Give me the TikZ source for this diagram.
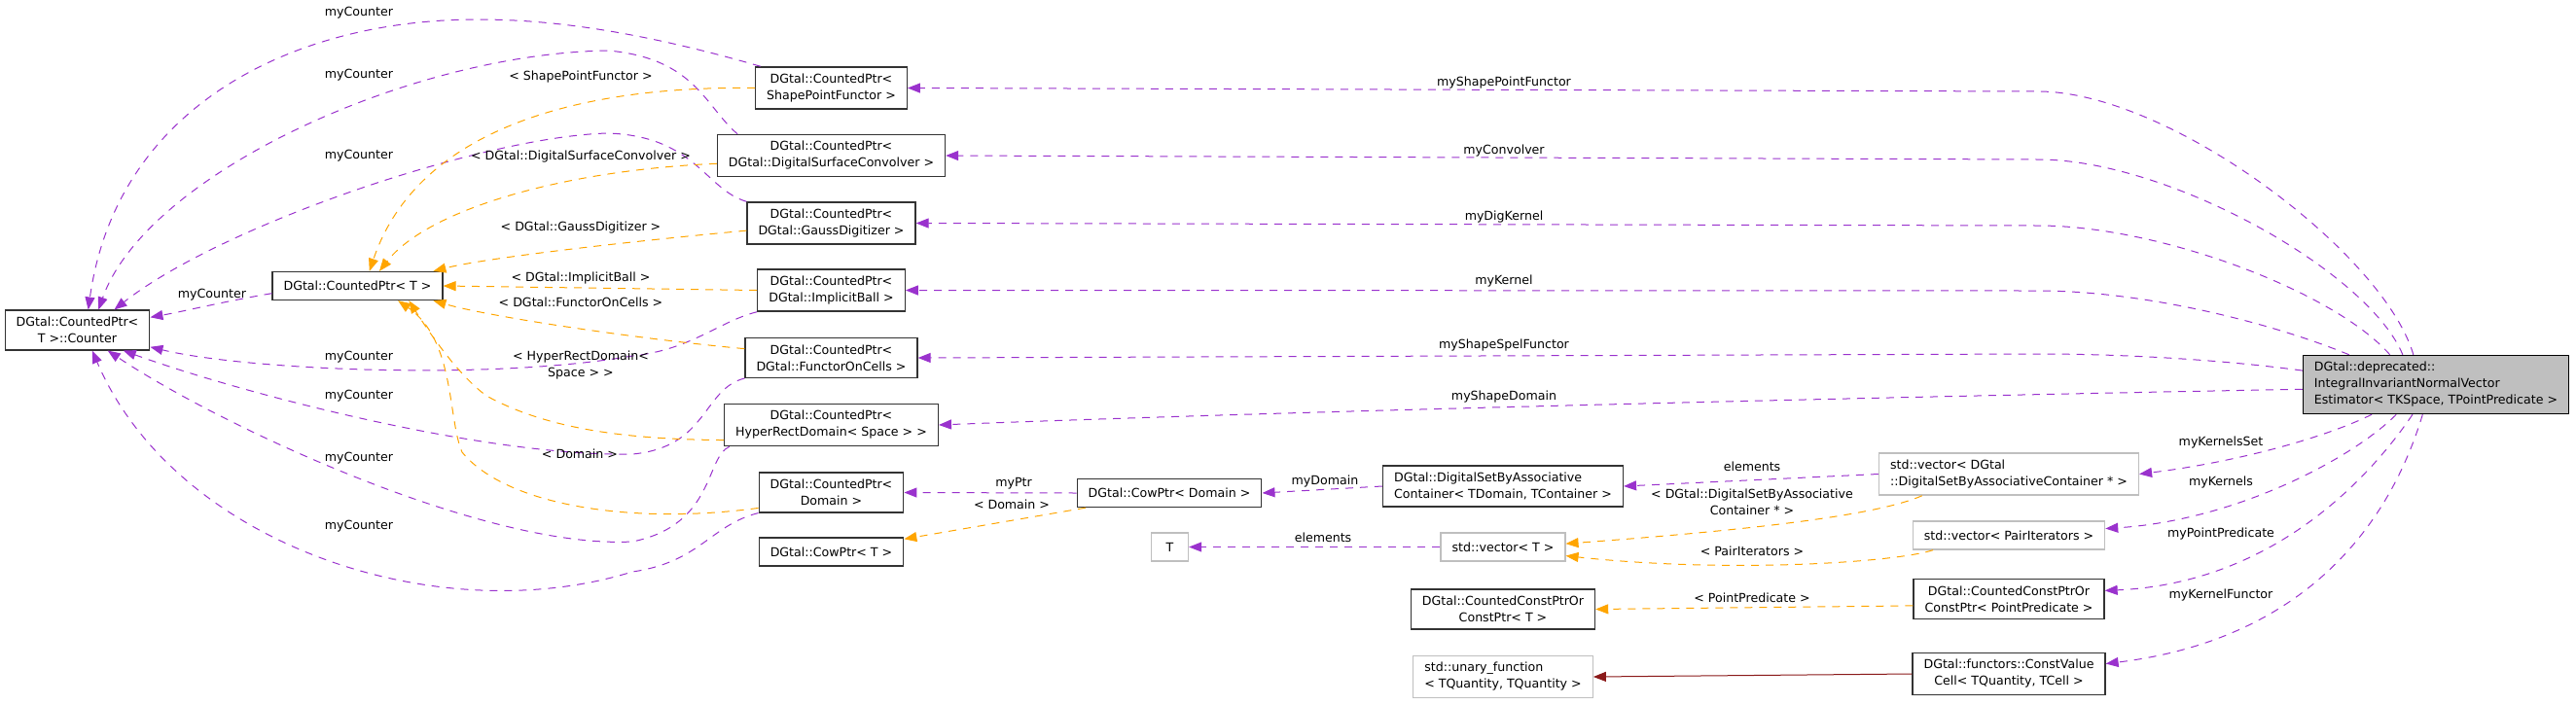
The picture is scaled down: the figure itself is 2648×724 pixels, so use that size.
\documentclass[tikz,border=0pt]{standalone}
\usepackage{fontspec}
\setmainfont{DejaVu Sans}
\usetikzlibrary{arrows.meta}
\definecolor{usecol}{HTML}{9A32CD}
\definecolor{tplcol}{HTML}{FFA500}
\definecolor{inhcol}{HTML}{8B1A1A}
\definecolor{extcol}{HTML}{BFBFBF}
\begin{document}
\begin{tikzpicture}[x=1pt,y=-1pt,font=\fontsize{12.6}{17}\selectfont,
  cls/.style={draw=black!80,line width=1.3pt,fill=white,inner xsep=11.5pt,inner ysep=7pt,minimum height=29pt,align=center},
  ext/.style={cls,draw=extcol},
  lbl/.style={inner sep=0pt,align=center},
  edge/.style={line width=1pt,dash pattern=on 8pt off 7pt,-{Triangle[length=13pt,width=10pt]}},
  use/.style={edge,draw=usecol},
  tpl/.style={edge,draw=tplcol},
  inh/.style={line width=1pt,draw=inhcol,-{Triangle[length=13pt,width=10pt]}}]
  \useasboundingbox (0,0) rectangle (2648,724);
  \node[cls] (cnt) at (79.5,339.5) {DGtal::CountedPtr<\\T >::Counter};
  \node[cls] (cptr) at (367.5,294) {DGtal::CountedPtr< T >};
  \node[cls] (spf) at (854.5,90.5) {DGtal::CountedPtr<\\ShapePointFunctor >};
  \node[cls] (dsc) at (854.5,160) {DGtal::CountedPtr<\\DGtal::DigitalSurfaceConvolver >};
  \node[cls] (gd) at (854.5,229.5) {DGtal::CountedPtr<\\DGtal::GaussDigitizer >};
  \node[cls] (ib) at (854.5,298.5) {DGtal::CountedPtr<\\DGtal::ImplicitBall >};
  \node[cls] (foc) at (854.5,368) {DGtal::CountedPtr<\\DGtal::FunctorOnCells >};
  \node[cls] (hrd) at (854.5,437) {DGtal::CountedPtr<\\HyperRectDomain< Space > >};
  \node[cls] (cpdom) at (854.5,506.5) {DGtal::CountedPtr<\\Domain >};
  \node[cls] (cowt) at (854.5,567.5) {DGtal::CowPtr< T >};
  \node[cls] (cowdom) at (1202,507) {DGtal::CowPtr< Domain >};
  \node[ext,minimum width=38pt] (tt) at (1202.5,562.5) {T};
  \node[cls,align=left] (dsbac) at (1545,500) {DGtal::DigitalSetByAssociative\\Container< TDomain, TContainer >};
  \node[ext] (vect) at (1545,562.5) {std::vector< T >};
  \node[cls] (ccpt) at (1545,626.5) {DGtal::CountedConstPtrOr\\ConstPtr< T >};
  \node[ext,align=left] (unf) at (1545,696) {std::unary\_function\\< TQuantity, TQuantity >};
  \node[ext,align=left] (vdsbac) at (2065,487.5) {std::vector< DGtal\\::DigitalSetByAssociativeContainer * >};
  \node[ext] (vpair) at (2065,550.5) {std::vector< PairIterators >};
  \node[cls] (ccpp) at (2065,616) {DGtal::CountedConstPtrOr\\ConstPtr< PointPredicate >};
  \node[cls] (cvc) at (2065,693) {DGtal::functors::ConstValue\\Cell< TQuantity, TCell >};
  \node[cls,fill=extcol,draw=black,align=left] (est) at (2504,395.5) {DGtal::deprecated::\\IntegralInvariantNormalVector\\Estimator< TKSpace, TPointPredicate >};
  \draw[use] (est.127) .. controls (2450,260) and (2230,94) .. (2095,94) -- (spf.east);
  \draw[use] (est.138) .. controls (2435,280) and (2230,164) .. (2095,164) -- (dsc.east);
  \draw[use] (est.147) .. controls (2400,300) and (2220,232) .. (2095,232) -- (gd.east);
  \draw[use] (est.161) .. controls (2330,330) and (2200,299) .. (2095,299) -- (ib.east);
  \draw[use] (est.174) .. controls (2300,372) and (2200,364) .. (2095,364) -- (foc.east);
  \draw[use] (est.182) .. controls (2100,405) and (1400,420) .. (hrd.east);
  \draw[use] (est.205) .. controls (2390,450) and (2300,475) .. (vdsbac.east);
  \draw[use] (est.217) .. controls (2420,470) and (2300,535) .. (vpair.4);
  \draw[use] (est.232) .. controls (2430,500) and (2330,600) .. (ccpp.5);
  \draw[use] (est.246) .. controls (2450,560) and (2350,660) .. (cvc.6);
  \draw[use] (vdsbac.west) -- (dsbac.east);
  \draw[tpl] (vdsbac.194) .. controls (1930,530) and (1800,545) .. (vect.3);
  \draw[tpl] (vpair.191) .. controls (1950,578) and (1780,590) .. (vect.-8);
  \draw[tpl] (ccpp.184) -- (ccpt.east);
  \draw[inh] (cvc.west) -- (unf.east);
  \draw[use] (dsbac.west) -- (cowdom.east);
  \draw[use] (cowdom.west) -- (cpdom.east);
  \draw[tpl] (cowdom.190) -- (cowt.10);
  \draw[use] (vect.west) -- (tt.east);
  \draw[use] (spf.163) .. controls (650,30) and (560,20) .. (491,20) .. controls (300,20) and (120,110) .. (cnt.62);
  \draw[use] (dsc.167) .. controls (725,110) and (715,60) .. (625,52) .. controls (420,55) and (150,180) .. (cnt.44);
  \draw[use] (gd.north west) .. controls (725,195) and (715,140) .. (625,137) .. controls (500,140) and (230,230) .. (cnt.29);
  \draw[use] (cptr.185) .. controls (230,310) and (190,320) .. (cnt.10);
  \draw[use] (ib.south west) .. controls (740,330) and (710,360) .. (650,366) .. controls (500,392) and (250,380) .. (cnt.347);
  \draw[use] (foc.south west) .. controls (722,400) and (728,460) .. (650,467) .. controls (500,470) and (250,405) .. (cnt.336);
  \draw[use] (hrd.192) .. controls (725,470) and (735,540) .. (650,557) .. controls (500,565) and (230,440) .. (cnt.326);
  \draw[use] (cpdom.south west) .. controls (730,540) and (720,578) .. (650,588) .. controls (450,650) and (180,560) .. (cnt.306);
  \draw[tpl] (spf.west) .. controls (600,88) and (430,130) .. (cptr.51);
  \draw[tpl] (dsc.184) .. controls (580,175) and (440,215) .. (cptr.34);
  \draw[tpl] (gd.185) .. controls (650,248) and (500,265) .. (cptr.11);
  \draw[tpl] (ib.west) -- (cptr.east);
  \draw[tpl] (foc.174) .. controls (650,348) and (500,325) .. (cptr.349);
  \draw[tpl] (hrd.188) .. controls (640,452) and (560,440) .. (500,407) .. controls (470,385) and (440,340) .. (cptr.344);
  \draw[tpl] (cpdom.192) .. controls (650,540) and (520,520) .. (475,465) .. controls (460,430) and (468,350) .. (cptr.340);
  \node[lbl] (lc1) at (369,13) {myCounter};
  \node[lbl] (lc2) at (369,77) {myCounter};
  \node[lbl] (lc3) at (369,160) {myCounter};
  \node[lbl] (lc4) at (218,303) {myCounter};
  \node[lbl] (lc5) at (369,367) {myCounter};
  \node[lbl] (lc6) at (369,407) {myCounter};
  \node[lbl] (lc7) at (369,471) {myCounter};
  \node[lbl] (lc8) at (369,541) {myCounter};
  \node[lbl] (lt1) at (597,79) {< ShapePointFunctor >};
  \node[lbl] (lt2) at (597,161) {< DGtal::DigitalSurfaceConvolver >};
  \node[lbl] (lt3) at (597,234) {< DGtal::GaussDigitizer >};
  \node[lbl] (lt4) at (597,286) {< DGtal::ImplicitBall >};
  \node[lbl] (lt5) at (597,311) {< DGtal::FunctorOnCells >};
  \node[lbl] (lt6) at (597,376) {< HyperRectDomain<\\Space > >};
  \node[lbl] (lt7) at (596,467) {< Domain >};
  \node[lbl] (lm1) at (1546,85) {myShapePointFunctor};
  \node[lbl] (lm2) at (1546,155) {myConvolver};
  \node[lbl] (lm3) at (1546,223) {myDigKernel};
  \node[lbl] (lm4) at (1546,289) {myKernel};
  \node[lbl] (lm5) at (1546,355) {myShapeSpelFunctor};
  \node[lbl] (lm6) at (1546,408) {myShapeDomain};
  \node[lbl] (lk1) at (2283,455) {myKernelsSet};
  \node[lbl] (lk2) at (2283,496) {myKernels};
  \node[lbl] (lk3) at (2283,549) {myPointPredicate};
  \node[lbl] (lk4) at (2283,612) {myKernelFunctor};
  \node[lbl] (le1) at (1801,480) {elements};
  \node[lbl] (le2) at (1801,516) {< DGtal::DigitalSetByAssociative\\Container * >};
  \node[lbl] (le3) at (1801,567) {< PairIterators >};
  \node[lbl] (le4) at (1801,615) {< PointPredicate >};
  \node[lbl] (ld1) at (1362,495) {myDomain};
  \node[lbl] (ld2) at (1042,497) {myPtr};
  \node[lbl] (ld3) at (1040,519) {< Domain >};
  \node[lbl] (ld4) at (1360,553) {elements};
\end{tikzpicture}
\end{document}
